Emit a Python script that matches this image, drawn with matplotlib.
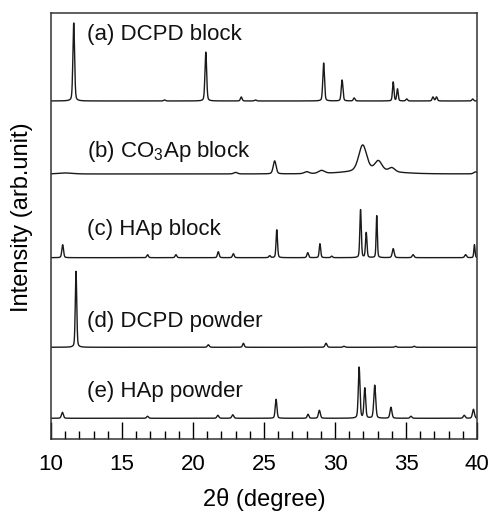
import numpy as np
import matplotlib
matplotlib.use("Agg")
import matplotlib.pyplot as plt
from matplotlib.ticker import MultipleLocator

plt.rcParams['font.family'] = ['Liberation Sans', 'DejaVu Sans']
plt.rcParams['mathtext.fontset'] = 'custom'
plt.rcParams['mathtext.rm'] = 'Liberation Sans'
plt.rcParams['mathtext.it'] = 'Liberation Sans:italic'

# peak lists: position (deg), height, half width (deg)
a_pos = [11.6, 18.0, 20.9, 23.4, 24.4, 29.2, 30.5, 31.35, 34.1, 34.4, 35.05, 36.9, 37.15, 39.7]
a_hgt = [78, 1, 49, 4, 1, 38, 21, 3, 19, 12, 2, 4, 4, 2]
a_wid = [0.07, 0.08, 0.07, 0.07, 0.08, 0.07, 0.07, 0.07, 0.06, 0.06, 0.07, 0.07, 0.07, 0.07]

b_pos = [11.0, 23.0, 25.75, 28.0, 29.05, 31.95, 33.05, 34.0, 32.5, 39.9]
b_hgt = [1, 1.5, 13, 2, 3, 26, 10, 4, 3, 2]
b_wid = [0.6, 0.15, 0.12, 0.2, 0.25, 0.33, 0.3, 0.25, 2.0, 0.15]

c_pos = [10.82, 16.8, 18.8, 21.78, 22.84, 25.4, 25.9, 28.08, 28.94, 29.77,
         31.8, 32.2, 32.94, 34.1, 35.5, 39.2, 39.82]
c_hgt = [13, 3, 3, 6, 4, 2, 28, 5, 14, 1.5, 48, 25, 42, 9, 3, 3, 13]
c_wid = [0.07, 0.07, 0.07, 0.07, 0.07, 0.07, 0.06, 0.07, 0.06, 0.07,
         0.06, 0.06, 0.05, 0.08, 0.08, 0.08, 0.05]

d_pos = [11.76, 21.08, 23.55, 29.37, 30.63, 34.27, 35.58]
d_hgt = [76, 2.5, 4, 4, 1, 1, 1]
d_wid = [0.06, 0.08, 0.07, 0.08, 0.08, 0.08, 0.08]

e_pos = [10.8, 16.8, 21.75, 22.8, 25.85, 28.1, 28.9, 31.7, 32.1, 32.8, 33.94, 35.35, 39.1, 39.75]
e_hgt = [6, 2, 3, 3.5, 19, 4, 8, 51, 30, 33, 11, 2, 3, 9]
e_wid = [0.08, 0.08, 0.08, 0.08, 0.07, 0.07, 0.08, 0.07, 0.07, 0.08, 0.08, 0.08, 0.08, 0.08]

labels = ["(a) DCPD block", "(b) CO$_3$Ap block", "(c) HAp block",
          "(d) DCPD powder", "(e) HAp powder"]
offsets = [338, 265, 181.3, 91.7, 20.7]
label_y = [404, 287, 209, 117, 47]

patterns = [(a_pos, a_hgt, a_wid), (b_pos, b_hgt, b_wid), (c_pos, c_hgt, c_wid),
            (d_pos, d_hgt, d_wid), (e_pos, e_hgt, e_wid)]


def profile(x, pos, hgt, wid):
    y = np.zeros_like(x)
    for p, h, w in zip(pos, hgt, wid):
        g = np.exp(-np.log(2) * ((x - p) / w) ** 2)
        l = 1.0 / (1.0 + ((x - p) / w) ** 2)
        y += h * (0.7 * g + 0.3 * l)
    return y


x = np.linspace(10, 40, 3000)

fig = plt.figure(figsize=(4.92, 5.15), dpi=100)
ax = fig.add_axes([0.1037, 0.1476, 0.8658, 0.8272])

for (pos, hgt, wid), off, lab, ly in zip(patterns, offsets, labels, label_y):
    ax.plot(x, profile(x, pos, hgt, wid) + off, color='#1a1a1a', lw=1.0)
    ax.text(12.5, ly, lab, fontsize=16, va='center', ha='left', color='#111111')

ax.set_xlim(10, 40)
ax.set_ylim(0, 426)
ax.set_yticks([])
ax.xaxis.set_major_locator(MultipleLocator(5))
ax.xaxis.set_minor_locator(MultipleLocator(1))
ax.tick_params(axis='x', which='major', direction='in', length=12, width=1, labelsize=16, pad=11)
ax.tick_params(axis='x', which='minor', direction='in', length=5.5, width=1)
for s in ax.spines.values():
    s.set_linewidth(1.1)
    s.set_color('#333333')

ax.set_xlabel("2θ (degree)", fontsize=17, labelpad=9)
ax.set_ylabel("Intensity (arb.unit)", fontsize=17)
ax.yaxis.set_label_coords(-0.042, 0.52)

fig.savefig("out.png", dpi=100)
